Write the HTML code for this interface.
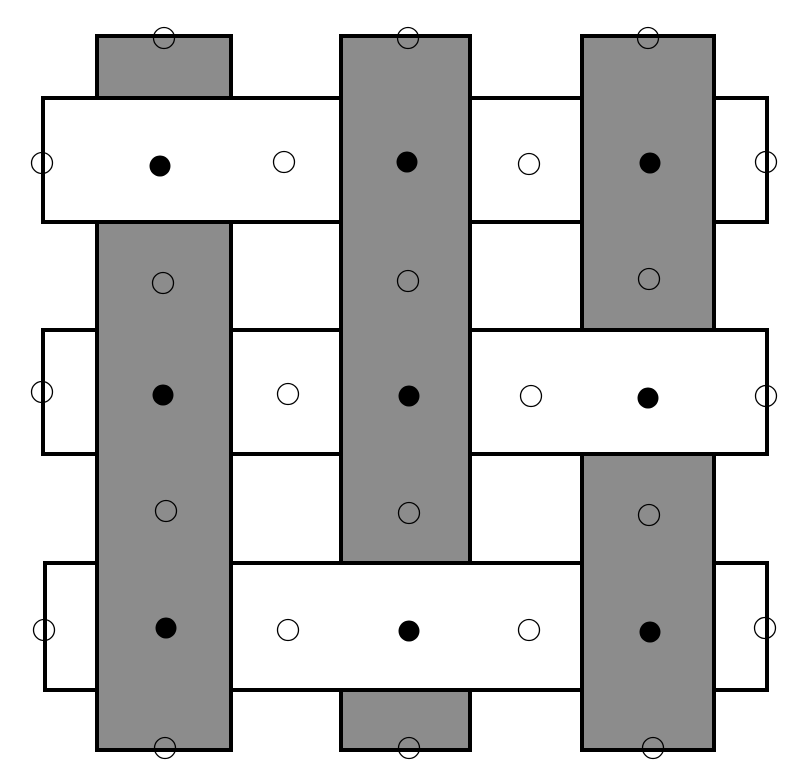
<!DOCTYPE html>
<html><head><meta charset="utf-8"><style>html,body{margin:0;padding:0;background:#fff}svg{display:block}</style></head>
<body>
<svg width="800" height="783" viewBox="0 0 800 783" xmlns="http://www.w3.org/2000/svg">
<g stroke="#000" stroke-width="4">
<!-- gray vertical bars -->
<rect x="97" y="36" width="134" height="714" fill="#8c8c8c"/>
<rect x="341" y="36" width="129" height="714" fill="#8c8c8c"/>
<rect x="582" y="36" width="132" height="714" fill="#8c8c8c"/>
<!-- white horizontal bars -->
<rect x="43" y="98" width="724" height="124" fill="#fff"/>
<rect x="43" y="330" width="724" height="124" fill="#fff"/>
<rect x="45" y="563" width="722" height="127" fill="#fff"/>
</g>
<!-- gray over crossings -->
<g fill="#8c8c8c">
<rect x="99" y="96" width="130" height="128"/>
<rect x="343" y="328" width="125" height="128"/>
<rect x="584" y="561" width="128" height="131"/>
<rect x="343" y="96" width="125" height="128"/>
<rect x="584" y="96" width="128" height="128"/>
<rect x="99" y="328" width="130" height="128"/>
<rect x="99" y="561" width="130" height="131"/>
</g>
<!-- only draw for those where gray is over: row1 col2,col3; row2 col1,col2; row3 col1,col3 -->
<!-- row1 col1: white over -> redraw white -->
<rect x="99" y="100" width="132" height="120" fill="#fff"/>
<line x1="97" y1="98" x2="231" y2="98" stroke="#000" stroke-width="4"/>
<line x1="97" y1="222" x2="231" y2="222" stroke="#000" stroke-width="4"/>
<!-- row2 col3 white over -->
<rect x="582" y="332" width="134" height="120" fill="#fff"/>
<line x1="580" y1="330" x2="716" y2="330" stroke="#000" stroke-width="4"/>
<line x1="580" y1="454" x2="716" y2="454" stroke="#000" stroke-width="4"/>
<!-- row3 col2 white over -->
<rect x="341" y="565" width="131" height="123" fill="#fff"/>
<line x1="339" y1="563" x2="472" y2="563" stroke="#000" stroke-width="4"/>
<line x1="339" y1="690" x2="472" y2="690" stroke="#000" stroke-width="4"/>
<!-- vertical edges where gray over -->
<g stroke="#000" stroke-width="4">
<line x1="341" y1="96" x2="341" y2="224"/><line x1="470" y1="96" x2="470" y2="224"/>
<line x1="582" y1="96" x2="582" y2="224"/><line x1="714" y1="96" x2="714" y2="224"/>
<line x1="97" y1="328" x2="97" y2="456"/><line x1="231" y1="328" x2="231" y2="456"/>
<line x1="341" y1="328" x2="341" y2="456"/><line x1="470" y1="328" x2="470" y2="456"/>
<line x1="97" y1="561" x2="97" y2="692"/><line x1="231" y1="561" x2="231" y2="692"/>
<line x1="582" y1="561" x2="582" y2="692"/><line x1="714" y1="561" x2="714" y2="692"/>
</g>
<!-- open circles -->
<g fill="none" stroke="#000" stroke-width="1.3">
<circle cx="164" cy="38" r="10.5"/><circle cx="408" cy="38" r="10.5"/><circle cx="648" cy="38" r="10.5"/>
<circle cx="42" cy="163" r="10.5"/><circle cx="284" cy="162" r="10.5"/><circle cx="529" cy="164" r="10.5"/><circle cx="766" cy="162" r="10.5"/>
<circle cx="163" cy="283" r="10.5"/><circle cx="408" cy="281" r="10.5"/><circle cx="649" cy="279" r="10.5"/>
<circle cx="42" cy="392" r="10.5"/><circle cx="288" cy="394" r="10.5"/><circle cx="531" cy="396" r="10.5"/><circle cx="766" cy="396" r="10.5"/>
<circle cx="166" cy="511" r="10.5"/><circle cx="409" cy="513" r="10.5"/><circle cx="649" cy="515" r="10.5"/>
<circle cx="44" cy="630" r="10.5"/><circle cx="288" cy="630" r="10.5"/><circle cx="529" cy="630" r="10.5"/><circle cx="765" cy="628" r="10.5"/>
<circle cx="165" cy="748" r="10.5"/><circle cx="409" cy="748" r="10.5"/><circle cx="653" cy="748" r="10.5"/>
</g>
<g fill="#000">
<circle cx="160" cy="166" r="10.5"/><circle cx="407" cy="162" r="10.5"/><circle cx="650" cy="163" r="10.5"/>
<circle cx="163" cy="395" r="10.5"/><circle cx="409" cy="396" r="10.5"/><circle cx="648" cy="398" r="10.5"/>
<circle cx="166" cy="628" r="10.5"/><circle cx="409" cy="631" r="10.5"/><circle cx="650" cy="632" r="10.5"/>
</g>
</svg>
</body></html>
